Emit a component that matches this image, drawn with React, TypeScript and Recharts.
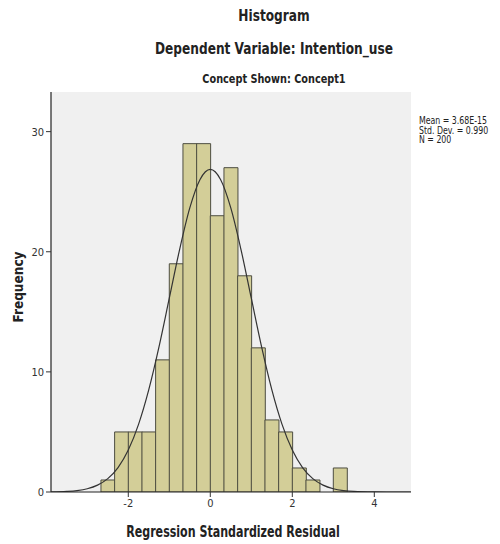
import React from 'react';
import { ComposedChart, Bar, Line, XAxis, YAxis, CartesianGrid } from 'recharts';

// Histogram bins (centers, bin width 1/3) and frequencies
const binCenters = [-2.5, -2.1667, -1.8333, -1.5, -1.1667, -0.8333, -0.5, -0.1667, 0.1667, 0.5, 0.8333, 1.1667, 1.5, 1.8333, 2.1667, 2.5, 2.8333, 3.1667];
const frequencies = [1, 5, 5, 5, 11, 19, 29, 29, 23, 27, 18, 12, 6, 5, 2, 1, 0, 2];

// Normal curve
const curveX = [-3.88, -3.5, -3.25, -3, -2.75, -2.5, -2.25, -2, -1.75, -1.5, -1.25, -1, -0.75, -0.5, -0.25, 0, 0.25, 0.5, 0.75, 1, 1.25, 1.5, 1.75, 2, 2.25, 2.5, 2.75, 3, 3.25, 3.5, 4, 4.5, 4.89];
const curveY = [0.01, 0.05, 0.12, 0.27, 0.57, 1.11, 2.03, 3.49, 5.63, 8.52, 12.1, 16.13, 20.16, 23.65, 26.02, 26.86, 26.02, 23.65, 20.16, 16.13, 12.1, 8.52, 5.63, 3.49, 2.03, 1.11, 0.57, 0.27, 0.12, 0.05, 0.01, 0.0, 0.0];

const xTicks = [-2, 0, 2, 4];
const yTicks = [0, 10, 20, 30];

const titleMain = 'Histogram';
const titleSub = 'Dependent Variable: Intention_use';
const titlePanel = 'Concept Shown: Concept1';
const xLabel = 'Regression Standardized Residual';
const yLabel = 'Frequency';
const statsLines = ['Mean = 3.68E-15', 'Std. Dev. = 0.990', 'N = 200'];

const barData = binCenters.map((x, i) => ({ x, freq: frequencies[i] }));
const curveData = curveX.map((x, i) => ({ x, curve: curveY[i] }));

const FONT = "'DejaVu Sans Condensed', 'DejaVu Sans', sans-serif";
const X_DOMAIN: [number, number] = [-3.885, 4.895];
const Y_DOMAIN: [number, number] = [0, 33.3];

function CText(props: { cx: number; top: number; size: number; sx: number; text: string }) {
  return (
    <div
      style={{
        position: 'absolute',
        left: props.cx,
        top: props.top,
        transform: `translateX(-50%) scaleX(${props.sx})`,
        whiteSpace: 'nowrap',
        fontSize: props.size,
        fontWeight: 'bold',
        color: '#222',
        lineHeight: 1.15,
      }}
    >
      {props.text}
    </div>
  );
}

export default function App() {
  return (
    <div style={{ position: 'absolute', left: 0, top: 0, width: 500, height: 544, background: '#fff', fontFamily: FONT, overflow: 'hidden' }}>
      <div style={{ position: 'absolute', left: 0, top: 0 }}>
        <ComposedChart
          width={500}
          height={544}
          data={barData}
          margin={{ top: 92, right: 89, bottom: 32, left: 21 }}
          barCategoryGap={0}
          barGap={0}
        >
          <CartesianGrid fill="#f0f0f0" horizontal={false} vertical={false} />
          <XAxis
            xAxisId="top"
            orientation="top"
            type="number"
            dataKey="x"
            domain={X_DOMAIN}
            allowDataOverflow
            height={0}
            tick={false}
            tickLine={false}
            axisLine={{ stroke: '#555', strokeWidth: 1.2 }}
          />
          <XAxis
            xAxisId="bars"
            type="number"
            dataKey="x"
            domain={X_DOMAIN}
            allowDataOverflow
            hide
          />
          <YAxis
            yAxisId="right"
            orientation="right"
            type="number"
            domain={Y_DOMAIN}
            allowDataOverflow
            width={0}
            tick={false}
            tickLine={false}
            axisLine={{ stroke: '#555', strokeWidth: 1.2 }}
          />
          <XAxis
            type="number"
            dataKey="x"
            domain={X_DOMAIN}
            allowDataOverflow
            ticks={xTicks}
            height={20}
            tickSize={5}
            tick={{ fontSize: 11, fill: '#333', fontFamily: FONT }}
            tickLine={{ stroke: '#333' }}
            axisLine={{ stroke: '#222', strokeWidth: 1.2 }}
          />
          <YAxis
            type="number"
            domain={Y_DOMAIN}
            allowDataOverflow
            ticks={yTicks}
            width={30}
            tickSize={5}
            tick={{ fontSize: 11, fill: '#333', fontFamily: FONT }}
            tickLine={{ stroke: '#333' }}
            axisLine={{ stroke: '#222', strokeWidth: 1.2 }}
          />
          <Bar
            xAxisId="bars"
            dataKey="freq"
            fill="#d3ce98"
            stroke="#4d4d40"
            strokeWidth={1}
            isAnimationActive={false}
          />
          <Line
            data={curveData}
            dataKey="curve"
            type="monotone"
            stroke="#333"
            strokeWidth={1.2}
            dot={false}
            activeDot={false}
            isAnimationActive={false}
          />
        </ComposedChart>
      </div>
      <CText cx={274} top={8} size={15} sx={0.9} text={titleMain} />
      <CText cx={274} top={41} size={15} sx={0.9} text={titleSub} />
      <CText cx={274} top={73} size={12} sx={0.9} text={titlePanel} />
      <CText cx={233} top={524} size={15} sx={0.82} text={xLabel} />
      <div
        style={{
          position: 'absolute',
          left: 18,
          top: 287,
          transform: 'translate(-50%, -50%) rotate(-90deg)',
          whiteSpace: 'nowrap',
          fontSize: 13.5,
          fontWeight: 'bold',
          color: '#222',
        }}
      >
        {yLabel}
      </div>
      <div
        style={{
          position: 'absolute',
          left: 419,
          top: 116,
          fontSize: 10,
          lineHeight: '9.5px',
          color: '#222',
          transform: 'scaleX(0.87)',
          transformOrigin: 'left top',
          whiteSpace: 'nowrap',
        }}
      >
        {statsLines.map((s) => (
          <div key={s}>{s}</div>
        ))}
      </div>
    </div>
  );
}
